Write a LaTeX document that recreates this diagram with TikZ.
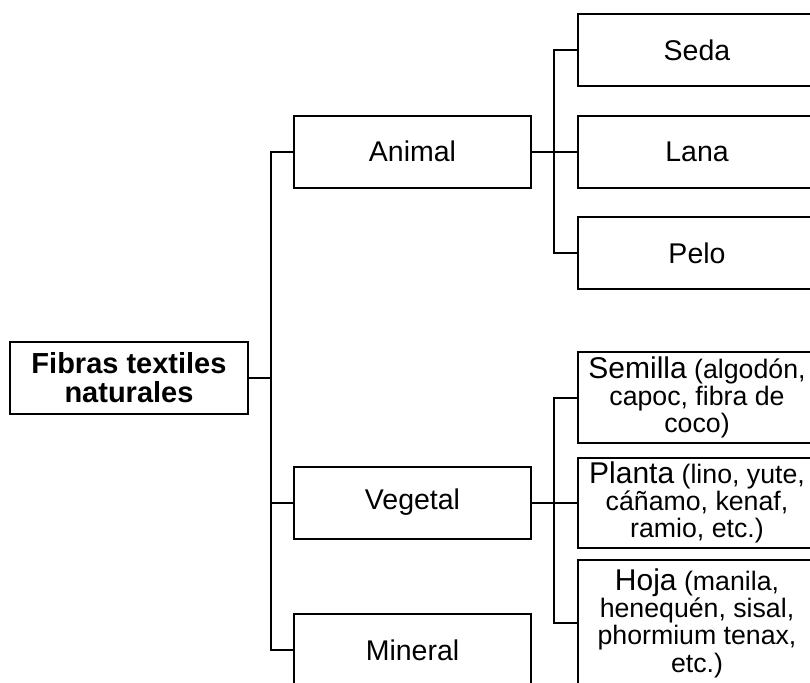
\documentclass[tikz,border=0pt]{standalone}
\usepackage{fontspec}
\setmainfont{Liberation Sans}
\usepackage{tikz}
\usetikzlibrary{calc}

\newcommand{\bigword}[1]{{\fontsize{30}{27}\selectfont #1}}

\begin{document}
\begin{tikzpicture}[x=1pt,y=-1pt,line width=2pt,
	box/.style={draw=black,rectangle,align=center,inner sep=0pt,
		minimum width=237pt,minimum height=72pt,
		font=\fontsize{28.5}{32}\selectfont},
	leaf/.style={box,minimum width=238pt,font=\fontsize{26.7}{27.3}\selectfont}]
	\useasboundingbox (0,0) rectangle (810,682);

	\node[box,minimum width=238pt,font=\bfseries\fontsize{29}{29}\selectfont] (root) at (129,378) {Fibras textiles\\naturales};

	\begin{scope}[every node/.style={box}]
		\node (animal) at (412.5,151.5) {Animal};
		\node (vegetal) at (412.5,502.5) {Vegetal};
		\node (mineral) at (412.5,650) {Mineral};
	\end{scope}

	\begin{scope}[every node/.style={leaf}]
		\node[font=\fontsize{28.5}{32}\selectfont] (seda) at (697,50) {Seda};
		\node[font=\fontsize{28.5}{32}\selectfont] (lana) at (697,151.5) {Lana};
		\node[font=\fontsize{28.5}{32}\selectfont] (pelo) at (697,253) {Pelo};
		\node[minimum height=91pt] (semilla) at (697,397.5) {\bigword{Semilla} (algodón,\\capoc, fibra de\\coco)};
		\node[minimum height=90pt] (planta) at (697,502.5) {\bigword{Planta} (lino, yute,\\cáñamo, kenaf,\\ramio, etc.)};
		\node[minimum height=126pt] (hoja) at (697,623) {\bigword{Hoja} (manila,\\henequén, sisal,\\phormium tenax,\\etc.)};
	\end{scope}

	% joints of the tree
	\coordinate (trunk) at (271,378);
	\coordinate (ajoint) at (554,151.5);
	\coordinate (vjoint) at (554,502.5);

	\draw (root.east) -- (trunk);
	\draw (animal.west) -| (trunk) |- (mineral.west);
	\draw (trunk |- vegetal) -- (vegetal.west);

	\draw (animal.east) -- (ajoint);
	\draw (seda.west) -| (ajoint) |- (pelo.west);
	\draw (ajoint) -- (lana.west);

	\draw (vegetal.east) -- (vjoint);
	\draw (semilla.west) -| (vjoint) |- (hoja.west);
	\draw (vjoint) -- (planta.west);
\end{tikzpicture}
\end{document}
